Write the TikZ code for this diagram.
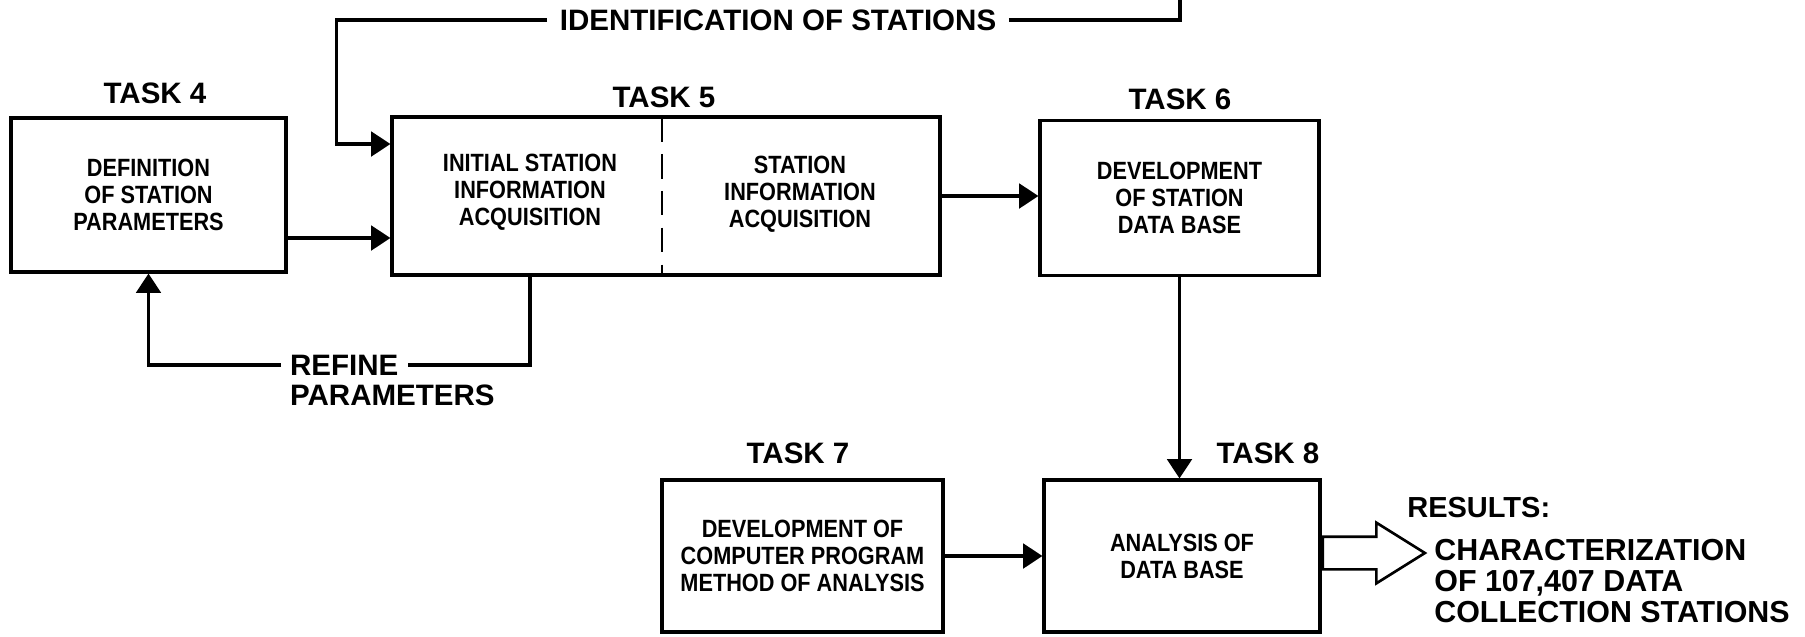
\documentclass[tikz,border=0pt]{standalone}
\usepackage{fontspec}
\setmainfont{Liberation Sans}
\newfontfamily\condfont[FakeStretch=0.87]{Liberation Sans}
\usetikzlibrary{arrows.meta, positioning, shapes.arrows}

\begin{document}
\begin{tikzpicture}[
    taskbox/.style={draw, line width=1.8pt, align=center, inner sep=2pt,
        font=\condfont\bfseries\fontsize{14.2}{15.4}\selectfont},
    boxtext/.style={align=center, inner sep=1pt,
        font=\condfont\bfseries\fontsize{14.2}{15.4}\selectfont},
    tasklbl/.style={inner sep=1pt, font=\bfseries\fontsize{16.8}{17}\selectfont},
    flowlbl/.style={inner sep=5pt, font=\bfseries\fontsize{16.8}{17}\selectfont},
    conn/.style={line width=1.9pt},
    bigarrow/.style={draw, line width=1.5pt, shape=single arrow, inner xsep=0pt,
        inner ysep=0.30cm, minimum height=2.04cm,
        single arrow head extend=0.28cm, single arrow tip angle=64},
    >={Triangle[length=11pt, width=14pt]}
]
    \useasboundingbox (0,0) rectangle (36.10,-12.72);

    % task boxes
    \node[taskbox, minimum width=5.50cm, minimum height=3.08cm] (box4) at (2.97,-3.90)
        {DEFINITION\\OF STATION\\PARAMETERS};
    \node[taskbox, minimum width=10.96cm, minimum height=3.16cm] (box5) at (13.32,-3.92) {};
    \node[boxtext] (t5a) at (10.60,-3.84) {INITIAL STATION\\INFORMATION\\ACQUISITION};
    \node[boxtext] (t5b) at (16.00,-3.88) {STATION\\INFORMATION\\ACQUISITION};
    \draw[line width=1.6pt, dash pattern=on 14pt off 7pt] (13.24,-2.34) -- (13.24,-5.50);
    \node[taskbox, minimum width=5.58cm, minimum height=3.10cm] (box6) at (23.59,-3.96)
        {DEVELOPMENT\\OF STATION\\DATA BASE};
    \node[taskbox, minimum width=5.62cm, minimum height=3.04cm] (box7) at (16.05,-11.12)
        {DEVELOPMENT OF\\COMPUTER PROGRAM\\METHOD OF ANALYSIS};
    \node[taskbox, minimum width=5.52cm, minimum height=3.04cm] (box8) at (23.64,-11.12)
        {ANALYSIS OF\\DATA BASE};

    % task titles
    \node[tasklbl] (lbl4) at (3.10,-1.86) {TASK 4};
    \node[tasklbl] (lbl5) at (13.28,-1.94) {TASK 5};
    \node[tasklbl] (lbl6) at (23.60,-1.98) {TASK 6};
    \node[tasklbl] (lbl7) at (15.96,-9.06) {TASK 7};
    \node[tasklbl] (lbl8) at (25.36,-9.06) {TASK 8};

    % feedback loops
    \node[flowlbl, inner sep=7pt] (ident) at (15.56,-0.40) {IDENTIFICATION OF STATIONS};
    \coordinate (idtop) at (23.60,0);
    \coordinate (idin) at (box5.west |- 0,-2.88);
    \draw[conn] (ident.east) -| (idtop);
    \draw[conn, ->] (ident.west) -| ([xshift=-1.08cm]idin) -- (idin);

    \node[flowlbl, anchor=west] (refine) at (5.62,-7.30) {REFINE};
    \node[flowlbl, anchor=west] (params) at (5.62,-7.90) {PARAMETERS};
    \draw[conn] (t5a.center |- box5.south) |- (refine.east);
    \draw[conn, ->] (refine.west) -| (box4.south);

    % main flow
    \draw[conn, ->] (box4.east |- 0,-4.76) -- (box5.west |- 0,-4.76);
    \draw[conn, ->] (box5.east) -- (box5.east -| box6.west);
    \draw[conn, ->] (box6.south) -- (box6.south |- box8.north);
    \draw[conn, ->] (box7.east) -- (box8.west);

    % results
    \node[bigarrow, anchor=tail] (res) at ([yshift=0.06cm]box8.east) {};
    \node[anchor=west, inner sep=0pt, font=\bfseries\fontsize{16.5}{16.5}\selectfont]
        (reslbl) at (28.14,-10.16) {RESULTS:};
    \node[anchor=west, align=left, inner sep=0pt,
        font=\bfseries\fontsize{17.3}{17.4}\selectfont]
        (restext) at (28.68,-11.62) {CHARACTERIZATION\\OF 107,407 DATA\\COLLECTION STATIONS};
\end{tikzpicture}
\end{document}
